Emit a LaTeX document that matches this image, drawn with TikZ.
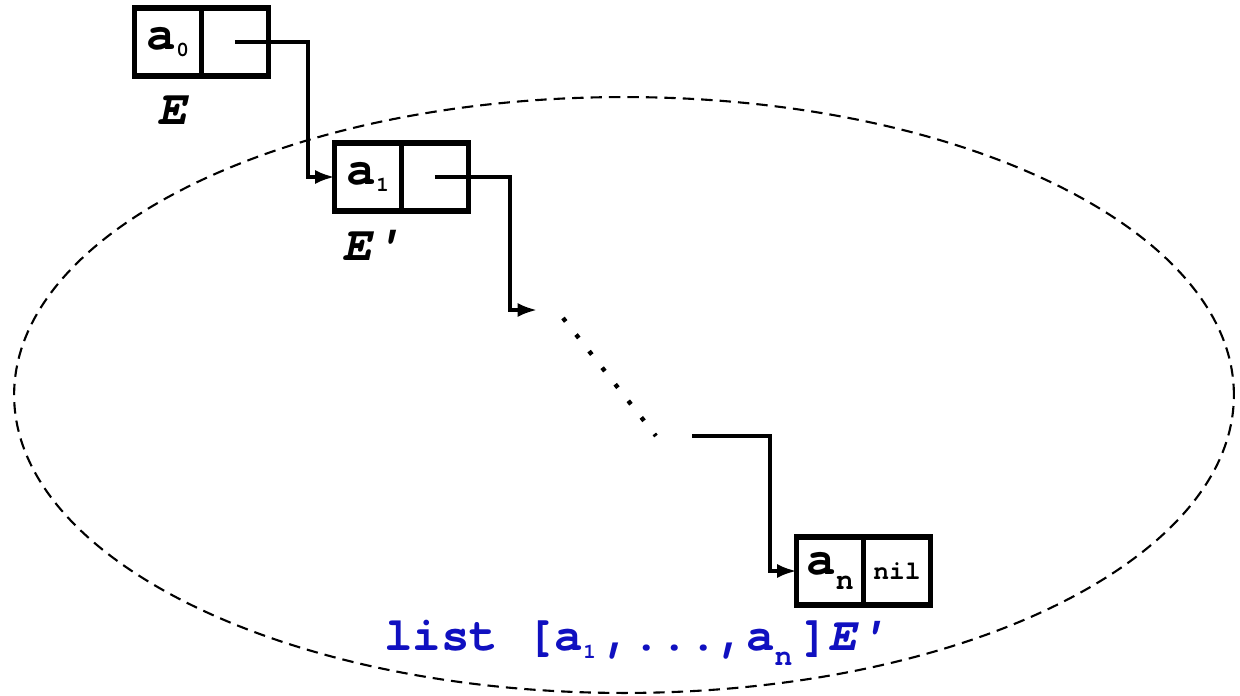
\documentclass[tikz,border=0pt]{standalone}
\usepackage{fontspec}
\setmonofont{TeX Gyre Cursor}
\usetikzlibrary{arrows.meta}
\definecolor{listblue}{RGB}{16,16,192}
\newcommand{\sbs}[1]{\raisebox{-0.35ex}{\fontsize{12}{12}\selectfont #1}}
\newcommand{\sbn}{\raisebox{-0.7ex}{\fontsize{17}{17}\selectfont n}}

\begin{document}
\begin{tikzpicture}[x=0.02cm,y=-0.02cm]
\tikzset{cell/.style={draw,line width=3.2pt,outer sep=0pt,minimum width=1.34cm,minimum height=1.36cm,inner sep=0pt,font=\ttfamily\bfseries\fontsize{28}{28}\selectfont},
  link/.style={line width=2pt,-{Latex[length=11pt,width=8pt]}},
  lbl/.style={font=\ttfamily\bfseries\itshape\fontsize{28}{28}\selectfont}}
\useasboundingbox (0,0) rectangle (1240,696);
% the ellipse round the tail
\draw[dashed,line width=1.2pt,dash pattern=on 6.5pt off 4pt] (624,395) ellipse [x radius=12.2cm,y radius=5.96cm];
% cells
\node[cell] (b0l) at (168,42) {a\sbs{0}};
\node[cell,anchor=west] (b0r) at (b0l.east) {};
\node[cell] (b1l) at (368,177) {a\sbs{1}};
\node[cell,anchor=west] (b1r) at (b1l.east) {};
\node[cell] (bnl) at (830,571) {a\sbn};
\node[cell,anchor=west,font=\ttfamily\bfseries\fontsize{15}{15}\selectfont] (bnr) at (bnl.east) {nil};
\node[lbl] (e0) at (172,110) {E};
\node[lbl] (e1) at (372,245) {E'};
\coordinate (t0) at (308,100);
\coordinate (t1) at (510,240);
\coordinate (dA) at (537,310);
\coordinate (d1) at (563,318);
\coordinate (d2) at (656,436);
\coordinate (dB) at (692,436);
\coordinate (t2) at (770,500);
% pointers
\draw[link] (b0r.center) -| (t0) |- (b1l.west);
\draw[link] (b1r.center) -| (t1) |- (dA);
\draw[line width=2.5pt,dash pattern=on 2.5pt off 9.5pt] (d1) -- (d2);
\draw[link] (dB) -| (t2) |- (bnl.west);
\node[font=\ttfamily\bfseries\fontsize{27}{27}\selectfont,text=listblue] (lst) at (635,643)
  {list [a\sbs{1}\,,...,a\sbn\,]\textit{E'}};
\end{tikzpicture}
\end{document}
